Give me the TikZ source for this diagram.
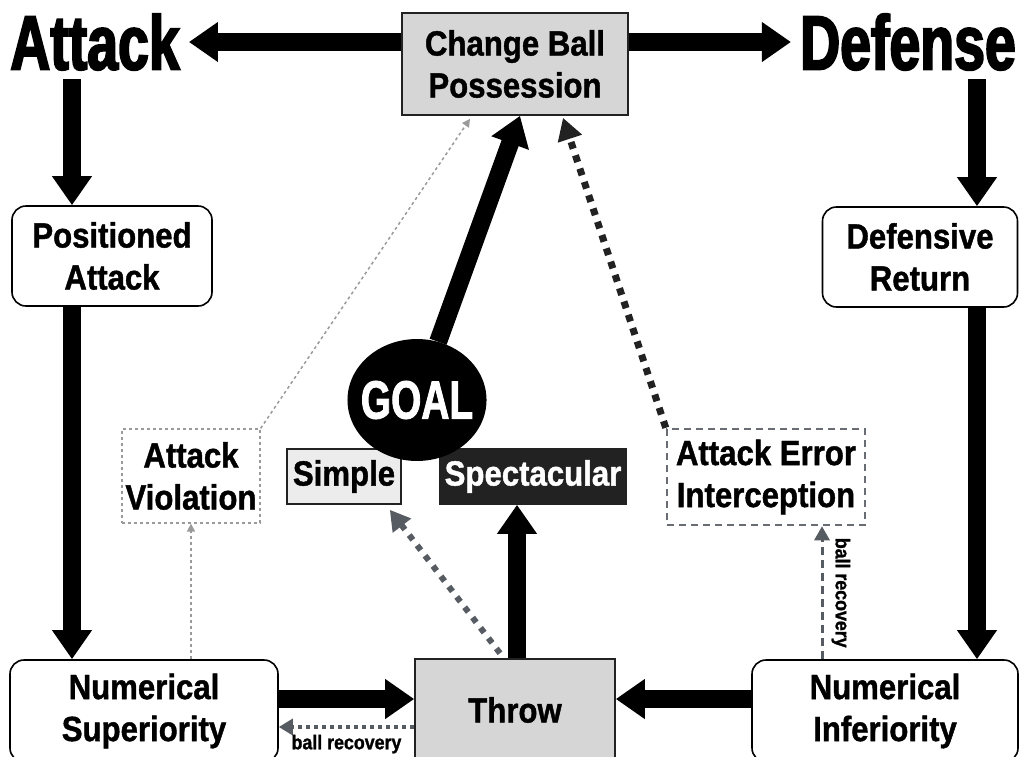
\documentclass[tikz,border=0pt]{standalone}
\usepackage{fontspec}
\usetikzlibrary{arrows.meta,shapes.geometric}
\newfontfamily\cond{Liberation Sans}[FakeStretch=0.89,FakeBold=1.2]
\newfontfamily\headfont{Liberation Sans}[FakeStretch=0.72,FakeBold=2.5]
\newfontfamily\goalfont{Liberation Sans}[FakeStretch=0.72,FakeBold=1.5]
\newcommand\boxfont{\cond\bfseries\fontsize{35}{42}\selectfont}
\definecolor{boxgray}{HTML}{D6D6D6}
\definecolor{lightbox}{HTML}{ECECEC}
\definecolor{darkbox}{HTML}{222222}
\definecolor{recgray}{HTML}{575C63}
\definecolor{violgray}{HTML}{9A9A9A}
\begin{document}
\begin{tikzpicture}[x=1pt,y=-1pt,
    title/.style={font=\headfont\bfseries\fontsize{77}{77}\selectfont,inner sep=9pt},
    stagebox/.style={draw=black,line width=1.6pt,rounded corners=14pt,align=center,font=\boxfont,inner sep=0pt},
    graybox/.style={draw=darkbox,line width=1.6pt,fill=boxgray,align=center,font=\boxfont,inner sep=0pt},
    outcome/.style={draw=darkbox,line width=1.6pt,align=center,font=\boxfont,inner sep=0pt,minimum height=55pt},
    lossbox/.style={align=center,font=\boxfont,inner sep=0pt},
    fatarrow/.style={line width=18pt,-{Triangle[width=38pt,length=29pt]}},
    recovery/.style={draw=recgray,line width=3.5pt,dash pattern=on 4pt off 4pt,-{Triangle[width=16pt,length=14pt]}},
    recdash/.style={draw=recgray,line width=3pt,dash pattern=on 8pt off 5pt,-{Triangle[width=15pt,length=14pt]}},
    shotarrow/.style={draw=recgray,line width=6pt,dash pattern=on 6pt off 7pt,-{Triangle[width=22pt,length=20pt]}},
    errarrow/.style={draw=darkbox,line width=7pt,dash pattern=on 7pt off 7pt,-{Triangle[width=24pt,length=22pt]}},
    violarrow/.style={draw=violgray,line width=1.5pt,dash pattern=on 3pt off 3pt,-{Triangle[width=8pt,length=8pt]}},
    smalllabel/.style={font=\cond\bfseries\fontsize{20}{20}\selectfont}]
  \useasboundingbox (0,0) rectangle (1020,756);
  % columns and rows of the thick arrows
  \coordinate (lcol) at (72,0);
  \coordinate (rcol) at (977,0);
  \coordinate (tcol) at (517,0);
  \coordinate (rcv) at (822,0);
  \coordinate (hi) at (0,699);
  \coordinate (lo) at (0,727);
  % phases and stages
  \node [title] (attack) at (95,42) {Attack};
  \node [title] (defense) at (908,42) {Defense};
  \node [graybox,minimum width=226pt,minimum height=102pt] (cbp) at (515,64) {Change Ball\\Possession};
  \node [stagebox,minimum width=200pt,minimum height=100pt] (posatt) at (112,256) {Positioned\\Attack};
  \node [stagebox,minimum width=195pt,minimum height=100pt] (defret) at (920,257) {Defensive\\Return};
  \node [stagebox,minimum width=268pt,minimum height=102pt] (numsup) at (144,711) {Numerical\\Superiority};
  \node [stagebox,minimum width=266pt,minimum height=102pt] (numinf) at (885,711) {Numerical\\Inferiority};
  \node [graybox,minimum width=200pt,minimum height=102pt] (throw) at (515,710) {Throw};
  \node [outcome,fill=lightbox,minimum width=114pt] (simple) at (344,476.5) {Simple};
  \node [outcome,fill=darkbox,text=white,minimum width=186pt] (spect) at (533,476.5) {Spectacular};
  \node [ellipse,fill=black,text=white,inner xsep=-7pt,inner ysep=24pt,
    font=\goalfont\bfseries\fontsize{54}{54}\selectfont] (goal) at (417,400) {GOAL};
  \node [lossbox,draw=violgray,line width=1.2pt,dash pattern=on 3pt off 3pt,minimum width=138pt,minimum height=94pt] (av) at (191,476) {Attack\\Violation};
  \node [lossbox,draw=recgray!90,line width=2.5pt,dash pattern=on 7pt off 5pt,minimum width=198pt,minimum height=96pt] (aei) at (766,477) {Attack Error\\Interception};
  % possession changes
  \draw [fatarrow] (cbp.west |- attack) -- (attack.east);
  \draw [fatarrow] (cbp.east |- defense) -- (defense.west);
  \draw [fatarrow] (attack.south -| lcol) -- (posatt.north -| lcol);
  \draw [fatarrow] (posatt.south -| lcol) -- (numsup.north -| lcol);
  \draw [fatarrow] (defense.south -| rcol) -- (defret.north -| rcol);
  \draw [fatarrow] (defret.south -| rcol) -- (numinf.north -| rcol);
  \draw [fatarrow] (numsup.east |- hi) -- (throw.west |- hi);
  \draw [fatarrow] (numinf.west |- hi) -- (throw.east |- hi);
  \draw [fatarrow] (throw.north -| tcol) -- (spect.south -| tcol);
  \draw [fatarrow] (goal) -- ([xshift=5pt]cbp.south);
  % throws and losses
  \draw [shotarrow] ([xshift=-15pt,yshift=5pt]throw.north) -- ([xshift=-12pt,yshift=-5pt]simple.south east);
  \draw [errarrow] (aei.north west) -- ([xshift=48pt,yshift=-2pt]cbp.south);
  \draw [violarrow] (av.north east) -- ([xshift=-45pt,yshift=-3pt]cbp.south);
  \draw [violarrow] (numsup.north -| av) -- (av.south);
  \draw [recovery] (throw.west |- lo) -- (numsup.east |- lo)
    node [smalllabel,midway,below,inner sep=6pt] (recl) {ball recovery};
  \draw [recdash] (numinf.north -| rcv) -- (aei.south -| rcv)
    node [smalllabel,midway,rotate=-90,anchor=south,inner sep=8pt] (recr) {ball recovery};
\end{tikzpicture}
\end{document}
